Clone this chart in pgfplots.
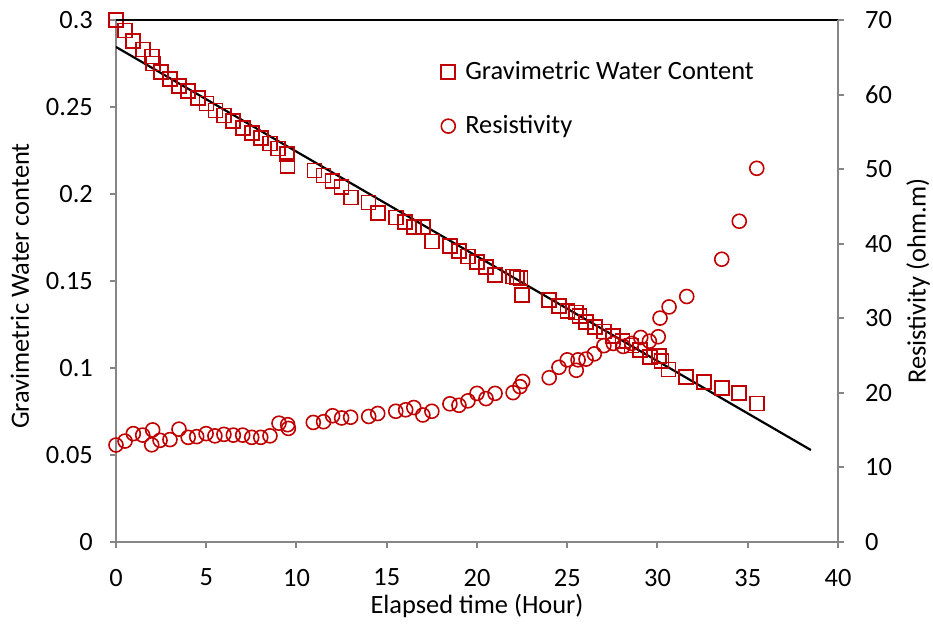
\documentclass[border=0pt]{standalone}
\usepackage{fontspec}
\setmainfont{Carlito}
\usepackage{pgfplots}
\pgfplotsset{compat=1.18}
\definecolor{gwc}{HTML}{C00000}
\definecolor{axgray}{HTML}{868686}

\pgfplotsset{
  every axis/.append style={
    scale only axis, width=361pt, height=260.85pt,
    at={(0pt,0pt)}, anchor=south west,
    xmin=0, xmax=40,
    /pgf/number format/assume math mode=true,
    tick align=outside, major tick length=3pt,
    major tick style={axgray, line width=1pt},
    tick label style={font=\fontsize{13.2}{15}\selectfont, black},
    label style={font=\fontsize{13.2}{15}\selectfont},
  },
}

\begin{document}
\fontsize{13.2}{15}\selectfont
\begin{tikzpicture}
\useasboundingbox (-58pt,-41.65pt) rectangle (408.5pt,270.85pt);

% gravimetric water content, left axis
\begin{axis}[
    ymin=0, ymax=0.3,
    axis x line*=bottom, axis y line*=left,
    axis line style={axgray, line width=1pt, -},
    xtick={0,5,...,40},
    ytick={0,0.05,0.1,0.15,0.2,0.25,0.3},
    scaled y ticks=false,
    yticklabel style={/pgf/number format/fixed, /pgf/number format/precision=2, xshift=-4pt},
    xticklabel style={yshift=-6pt},
    xlabel={Elapsed time (Hour)},
    xlabel style={at={(axis description cs:0.5,-0.123)}, anchor=center},
    ylabel={Gravimetric Water content},
    ylabel style={at={(axis description cs:-0.133,0.49)}, anchor=center},
    legend cell align=left,
    legend style={draw=none, fill=none, at={(0.450,0.930)}, anchor=north west,
      inner sep=0pt, row sep=12pt, font=\fontsize{13.2}{15}\selectfont,
      nodes={inner xsep=5pt}},
    legend image code/.code={\draw[mark repeat=2,mark phase=2,#1]
      plot coordinates {(0pt,0pt) (3.6pt,0pt) (7.2pt,0pt)};},
  ]
\addplot[only marks, mark=square, mark size=3.5pt, gwc, mark options={line width=0.8pt}]
  table {
x y
0 0.300
0.5 0.294
0.94 0.288
1.48 0.283
1.98 0.279
2.05 0.275
2.49 0.270
2.99 0.266
3.49 0.262
3.99 0.259
4.53 0.255
5.02 0.252
5.52 0.248
5.98 0.245
6.48 0.242
7.02 0.238
7.52 0.235
8.02 0.232
8.52 0.229
8.98 0.226
9.47 0.223
9.51 0.216
11.0 0.2135
11.49 0.2106
12.0 0.2073
12.5 0.2038
13.02 0.198
14.0 0.195
14.5 0.189
15.5 0.1865
16.0 0.184
16.5 0.181
17.0 0.181
17.5 0.1727
18.5 0.170
19.0 0.167
19.5 0.164
20.0 0.161
20.5 0.158
21.0 0.1535
22.0 0.1525
22.2 0.1520
22.4 0.1516
22.5 0.1418
24.0 0.1389
24.54 0.1356
25.02 0.1327
25.5 0.1317
25.67 0.1298
26.04 0.1265
26.54 0.1235
27.03 0.1208
27.55 0.1183
28.07 0.1154
28.57 0.1129
29.03 0.1102
29.58 0.1062
30.08 0.1067
30.23 0.1038
30.6 0.0990
31.58 0.0948
32.58 0.0917
33.56 0.0884
34.53 0.0856
35.5 0.0795
  };
\addlegendentry{Gravimetric Water Content}
\addlegendimage{only marks, mark=o, mark size=3.5pt, gwc, mark options={line width=0.8pt}}
\addlegendentry{Resistivity}
% linear trendline
\addplot[black, line width=1.1pt, forget plot] coordinates {(0,0.2845) (38.5,0.0527)};
\end{axis}

% resistivity, right axis
\begin{axis}[
    ymin=0, ymax=70,
    axis x line*=top, axis y line*=right,
    x axis line style={black, line width=0.8pt, -},
    y axis line style={axgray, line width=1pt, -},
    xtick=\empty,
    ytick={0,10,...,70},
    yticklabel style={xshift=6pt},
    ylabel={Resistivity (ohm.m)},
    ylabel style={at={(axis description cs:1.111,0.5)}, anchor=center, rotate=0},
  ]
\addplot[only marks, mark=o, mark size=3.5pt, gwc, mark options={line width=0.8pt}]
  table {
x y
0 12.97
0.5 13.5
0.96 14.5
1.48 14.3
2.03 15.0
1.98 13.0
2.44 13.6
2.99 13.7
3.49 15.1
4.0 14.0
4.47 14.1
4.99 14.5
5.48 14.2
5.98 14.4
6.5 14.3
7.02 14.3
7.52 14.0
8.02 14.0
8.53 14.2
9.03 15.9
9.51 15.7
9.55 15.2
10.93 16.0
11.5 16.1
12.0 16.9
12.5 16.6
13.0 16.7
14.0 16.8
14.5 17.2
15.5 17.5
16.05 17.7
16.5 18.0
17.0 17.0
17.5 17.5
18.5 18.5
19.0 18.3
19.5 18.9
20.0 19.9
20.5 19.2
21.0 19.9
22.0 20.0
22.38 20.8
22.53 21.5
24.0 22.0
24.54 23.4
25.0 24.4
25.5 23.0
25.6 24.4
26.04 24.5
26.5 25.2
27.03 26.3
27.55 26.6
28.1 26.2
28.57 26.6
29.07 27.4
29.55 26.9
30.04 27.5
30.14 30.0
30.64 31.5
31.62 32.9
33.56 37.9
34.53 43.0
35.5 50.1
  };
\end{axis}
\end{tikzpicture}
\end{document}
